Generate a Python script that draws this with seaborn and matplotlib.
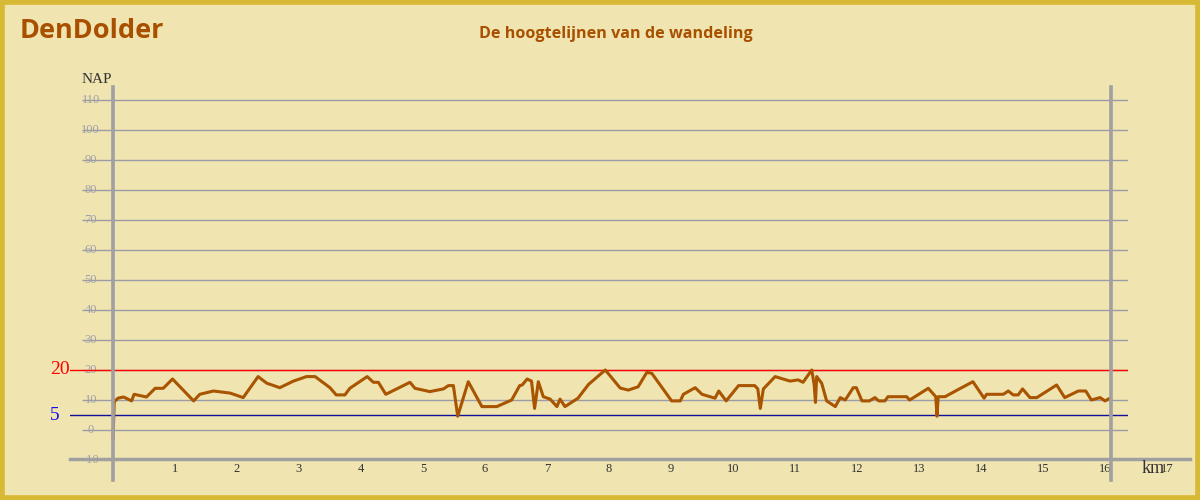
import matplotlib
matplotlib.use("Agg")
import matplotlib.pyplot as plt
from matplotlib.patches import Rectangle
import pandas as pd
import seaborn as sns

# hoogteprofiel: afstand (km) en hoogte (m NAP)
km = [0.00, 0.02, 0.08, 0.17, 0.30, 0.34, 0.54, 0.68, 0.81, 0.96,
      1.30, 1.40, 1.62, 1.89, 2.10, 2.34, 2.48, 2.69, 2.91, 3.12,
      3.26, 3.50, 3.60, 3.74, 3.82, 4.10, 4.20, 4.28, 4.40, 4.79,
      4.87, 5.11, 5.33, 5.41, 5.49, 5.56, 5.73, 5.95, 6.19, 6.43,
      6.56, 6.60, 6.68, 6.75, 6.80, 6.86, 6.94, 7.05, 7.16, 7.21,
      7.29, 7.50, 7.67, 7.94, 8.18, 8.31, 8.47, 8.61, 8.69, 9.01,
      9.15, 9.20, 9.39, 9.50, 9.71, 9.77, 9.89, 10.09, 10.35, 10.40,
      10.44, 10.49, 10.68, 10.92, 11.05, 11.13, 11.27, 11.31, 11.33, 11.35,
      11.43, 11.51, 11.65, 11.73, 11.81, 11.94, 11.99, 12.08, 12.20, 12.29,
      12.35, 12.45, 12.50, 12.80, 12.85, 13.15, 13.27, 13.29, 13.31, 13.42,
      13.66, 13.87, 14.05, 14.09, 14.36, 14.44, 14.52, 14.60, 14.67, 14.79,
      14.90, 15.22, 15.35, 15.57, 15.69, 15.78, 15.92, 16.00, 16.08]
hoogte = [-3.0, 9.4, 10.6, 11.0, 9.7, 11.9, 11.0, 13.9, 13.9, 17.0,
          9.7, 11.9, 13.0, 12.3, 10.8, 17.8, 15.6, 14.1, 16.3, 17.8,
          17.8, 14.1, 11.7, 11.7, 13.9, 17.8, 15.9, 15.9, 11.9, 15.9,
          13.9, 12.8, 13.7, 14.8, 14.8, 4.6, 16.1, 7.8, 7.8, 10.0,
          14.8, 15.0, 17.0, 16.3, 7.2, 16.1, 11.1, 10.3, 7.8, 10.3,
          7.8, 10.6, 15.2, 20.0, 14.0, 13.3, 14.4, 19.2, 18.9, 9.7,
          9.7, 11.9, 14.1, 11.9, 10.6, 13.0, 9.7, 14.8, 14.8, 13.7,
          7.2, 13.7, 17.8, 16.3, 16.7, 15.9, 20.0, 15.0, 9.2, 17.8,
          15.6, 9.7, 7.8, 10.8, 10.0, 14.1, 14.1, 9.7, 9.7, 10.8,
          9.7, 9.7, 11.1, 11.1, 10.0, 13.9, 11.1, 4.6, 11.1, 11.1,
          13.8, 16.1, 10.6, 11.9, 11.9, 13.0, 11.7, 11.7, 13.7, 10.8,
          10.8, 15.0, 10.8, 13.0, 13.0, 10.0, 10.8, 9.7, 10.6]

y_ticks = list(range(-10, 120, 10))
x_ticks = list(range(1, 18))
lijn_hoog = 20
lijn_laag = 5
eind_km = 16.1

bg = "#f0e4b0"
bruin = "#a85400"
grijs = "#9c9ca6"

df = pd.DataFrame({"km": km, "hoogte": hoogte})

fig = plt.figure(figsize=(12, 5), dpi=100, facecolor=bg)
fig.patches.append(Rectangle((0, 0), 1, 1, transform=fig.transFigure,
                             fill=False, edgecolor="#d8b935", linewidth=7))

# axes: x van pixel 70 tot 1128, y van pixel 460 (-10) tot 85 (115)
ax = fig.add_axes([70 / 1200, 40 / 500, 1058 / 1200, 375 / 500])
ax.set_xlim(-43 / 62, 1015 / 62)
ax.set_ylim(-10, 115)
ax.patch.set_alpha(0)

for t in y_ticks:
    ax.hlines(t, -0.5, ax.get_xlim()[1], color=grijs, lw=1, zorder=1)
    ax.text(-0.36, t, str(t), ha="center", va="center", fontsize=9,
            family="Liberation Serif", color="#a0a0a8", zorder=0)

ax.axhline(lijn_hoog, color="red", lw=1, zorder=2)
ax.axhline(lijn_laag, color="#10109a", lw=1, zorder=2)
ax.text(-0.86, lijn_hoog, str(lijn_hoog), ha="center", va="center",
        fontsize=14, family="Liberation Serif", color="red")
ax.text(-0.94, lijn_laag, str(lijn_laag), ha="center", va="center",
        fontsize=14, family="Liberation Serif", color="#1010ee")

sns.lineplot(data=df, x="km", y="hoogte", ax=ax, color=bruin, lw=2.2,
             sort=False, estimator=None, zorder=4)

# assen
ax.plot([-43 / 62, 1077 / 62], [-9.7, -9.7], color="#a0a0a0", lw=2.5,
        clip_on=False, zorder=3)
for xv in [0, eind_km]:
    ax.plot([xv, xv], [114.3, -16.7], color="#a0a0a0", lw=2.6,
            clip_on=False, zorder=5)

for t in x_ticks:
    ax.text(t, -13, str(t), ha="center", va="center", fontsize=9,
            family="Liberation Serif", color="#333333")
ax.text(16.78, -12.7, "km", ha="center", va="center", fontsize=13,
        family="Liberation Serif", color="#333333")
ax.text(-0.26, 116.7, "NAP", ha="center", va="center", fontsize=11,
        family="Liberation Serif", color="#333333")
ax.axis("off")

fig.text(20 / 1200, 1 - 31 / 500, "DenDolder", ha="left", va="center",
         fontsize=19.5, fontweight="bold", family="Open Sans", color="#a85000")
fig.text(616 / 1200, 1 - 34 / 500, "De hoogtelijnen van de wandeling",
         ha="center", va="center", fontsize=11.6, fontweight="bold",
         family="Open Sans", color="#a85000")

fig.savefig("out.png", dpi=100, facecolor=bg)
